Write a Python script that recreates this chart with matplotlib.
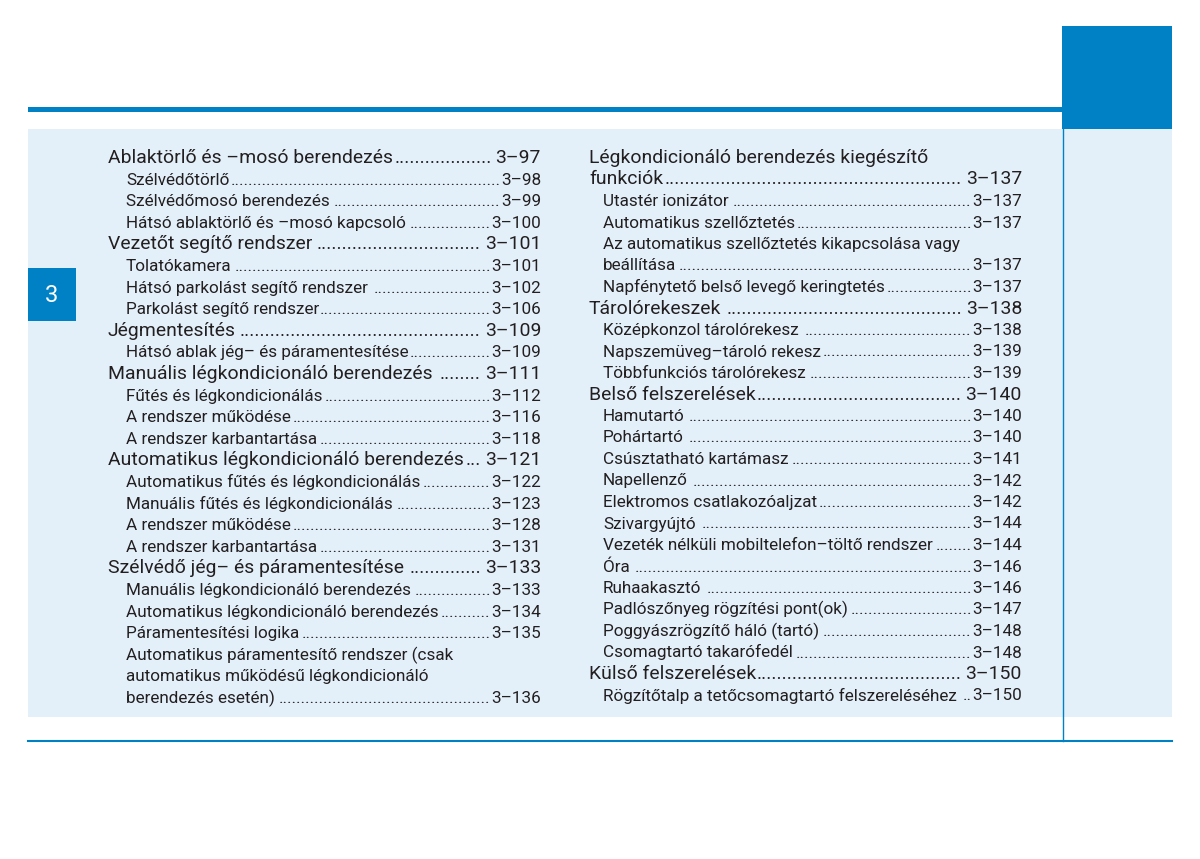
import matplotlib
matplotlib.use("Agg")
import matplotlib.pyplot as plt
from matplotlib.patches import Rectangle

# ---------------- data ----------------
left_titles = [
    "Ablaktörlő és –mosó berendezés",
    "Szélvédőtörlő",
    "Szélvédőmosó berendezés",
    "Hátsó ablaktörlő és –mosó kapcsoló ",
    "Vezetőt segítő rendszer",
    "Tolatókamera",
    "Hátsó parkolást segítő rendszer ",
    "Parkolást segítő rendszer",
    "Jégmentesítés ",
    "Hátsó ablak jég– és páramentesítése",
    "Manuális légkondicionáló berendezés ",
    "Fűtés és légkondicionálás",
    "A rendszer működése",
    "A rendszer karbantartása",
    "Automatikus légkondicionáló berendezés",
    "Automatikus fűtés és légkondicionálás",
    "Manuális fűtés és légkondicionálás",
    "A rendszer működése",
    "A rendszer karbantartása",
    "Szélvédő jég– és páramentesítése ",
    "Manuális légkondicionáló berendezés",
    "Automatikus légkondicionáló berendezés",
    "Páramentesítési logika ",
    "Automatikus páramentesítő rendszer (csak",
    "automatikus működésű légkondicionáló",
    "berendezés esetén)",
]
left_pages = [
    "3–97", "3–98", "3–99", "3–100", "3–101", "3–101", "3–102", "3–106",
    "3–109", "3–109", "3–111", "3–112", "3–116", "3–118", "3–121", "3–122",
    "3–123", "3–128", "3–131", "3–133", "3–133", "3–134", "3–135", "", "", "3–136",
]
left_levels = [1, 2, 2, 2, 1, 2, 2, 2, 1, 2, 1, 2, 2, 2, 1, 2, 2, 2, 2, 1, 2, 2, 2, 2, 2, 2]

right_titles = [
    "Légkondicionáló berendezés kiegészítő",
    "funkciók",
    "Utastér ionizátor ",
    "Automatikus szellőztetés",
    "Az automatikus szellőztetés kikapcsolása vagy",
    "beállítása ",
    "Napfénytető belső levegő keringtetés",
    "Tárolórekeszek",
    "Középkonzol tárolórekesz ",
    "Napszemüveg–tároló rekesz ",
    "Többfunkciós tárolórekesz",
    "Belső felszerelések",
    "Hamutartó ",
    "Pohártartó ",
    "Csúsztatható kartámasz ",
    "Napellenző",
    "Elektromos csatlakozóaljzat",
    "Szivargyújtó ",
    "Vezeték nélküli mobiltelefon–töltő rendszer",
    "Óra",
    "Ruhaakasztó",
    "Padlószőnyeg rögzítési pont(ok)",
    "Poggyászrögzítő háló (tartó) ",
    "Csomagtartó takarófedél ",
    "Külső felszerelések",
    "Rögzítőtalp a tetőcsomagtartó felszereléséhez ",
]
right_pages = [
    "", "3–137", "3–137", "3–137", "", "3–137", "3–137", "3–138", "3–138",
    "3–139", "3–139", "3–140", "3–140", "3–140", "3–141", "3–142", "3–142",
    "3–144", "3–144", "3–146", "3–146", "3–147", "3–148", "3–148", "3–150", "3–150",
]
right_levels = [1, 1, 2, 2, 2, 2, 2, 1, 2, 2, 2, 1, 2, 2, 2, 2, 2, 2, 2, 2, 2, 2, 2, 2, 1, 2]

chapter_label = "3"

# ---------------- style ----------------
BLUE = "#0081C6"
LIGHT = "#E3F0FA"
TEXT = "#231F20"
FONT = ["Roboto", "DejaVu Sans"]
FS1 = 13.95
FS2 = 12.3

fig = plt.figure(figsize=(12, 8.59), dpi=100)
ax = fig.add_axes([0, 0, 1, 1])
ax.set_xlim(0, 1200)
ax.set_ylim(859, 0)
ax.axis("off")

ax.add_patch(Rectangle((28, 129), 1144, 588, color=LIGHT, lw=0))
ax.add_patch(Rectangle((28, 107), 1034, 5, color=BLUE, lw=0))
ax.add_patch(Rectangle((1062, 26), 110, 103, color=BLUE, lw=0))
ax.plot([1062.5, 1062.5], [129, 741], color=BLUE, lw=1.0)
ax.plot([28, 1172], [741, 741], color=BLUE, lw=1.5)
ax.add_patch(Rectangle((28, 268), 48, 53, color=BLUE, lw=0))
ax.text(52, 295, chapter_label, color="white", fontsize=17, family=FONT,
        ha="center", va="center")

renderer = fig.canvas.get_renderer()


def width_px(s, fs):
    t = ax.text(0, 0, s, fontsize=fs, family=FONT)
    w = t.get_window_extent(renderer).width
    t.remove()
    return w


dot_w = {1: width_px("." * 40, FS1) / 40, 2: width_px("." * 40, FS2) / 40}
space_w = {1: width_px("a a", FS1) - width_px("aa", FS1),
           2: width_px("a a", FS2) - width_px("aa", FS2)}


def draw_column(titles, pages, levels, x1, x2, xr, y0, step):
    for i, (title, page, lvl) in enumerate(zip(titles, pages, levels)):
        y = y0 + step * i
        fs = FS1 if lvl == 1 else FS2
        x = x1 if lvl == 1 else x2
        t = ax.text(x, y, title.rstrip(), fontsize=fs, family=FONT, color=TEXT,
                    ha="left", va="baseline")
        if not page:
            continue
        p = ax.text(xr, y, page, fontsize=fs, family=FONT, color=TEXT,
                    ha="right", va="baseline")
        tb = t.get_window_extent(renderer)
        pb = p.get_window_extent(renderer)
        start = tb.x1 + (space_w[lvl] * 0.5 if title.endswith(" ") else 0.5)
        end = pb.x0 - (space_w[1] * 0.8 if lvl == 1 else 0.5)
        n = int((end - start) // dot_w[lvl])
        if n > 0:
            ax.text(end, y, "." * n, fontsize=fs, family=FONT, color=TEXT,
                    ha="right", va="baseline")


draw_column(left_titles, left_pages, left_levels, 108, 126, 541, 163, 21.6)
draw_column(right_titles, right_pages, right_levels, 589, 603, 1022, 163, 21.5)

fig.savefig("out.png", dpi=100, facecolor="white")
